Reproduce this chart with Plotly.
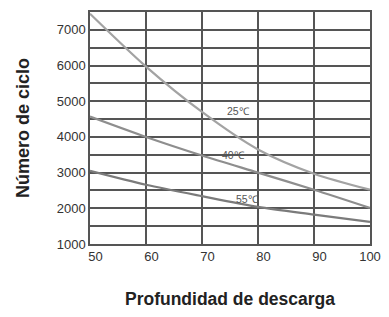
import plotly.graph_objects as go

dod = [50, 60, 70, 80, 90, 100]
cycles_25 = [7450, 5970, 4700, 3650, 2970, 2520]
cycles_40 = [4570, 4000, 3480, 3000, 2520, 2010]
cycles_55 = [3050, 2660, 2340, 2040, 1825, 1620]
series_names = ["25℃", "40℃", "55℃"]
label_x = [76.5, 75.6, 78.2]
label_y = [4740, 3480, 2270]
x_ticks = [50, 60, 70, 80, 90, 100]
y_ticks = [1000, 2000, 3000, 4000, 5000, 6000, 7000]

colors = ["#a3a3a3", "#8e8e8e", "#7b7b7b"]

fig = go.Figure()
for name, ys, c in zip(series_names, [cycles_25, cycles_40, cycles_55], colors):
    fig.add_trace(go.Scatter(x=dod, y=ys, mode="lines", name=name,
                             line=dict(color=c, width=2.2, shape="spline", smoothing=0.8),
                             showlegend=False))

for name, lx, ly in zip(series_names, label_x, label_y):
    fig.add_annotation(x=lx, y=ly, text=name, showarrow=False,
                       font=dict(size=10.5, color="#555", family="Liberation Sans Narrow, Liberation Sans"))

# small right offset of tick labels as in the original (none on the last to keep it inside)
x_text = [("\u00a0\u00a0\u00a0" + str(v)) if v < 100 else str(v) for v in x_ticks]

grid_vals = list(range(1000, 7501, 500))
fig.update_layout(
    width=381, height=301,
    margin=dict(l=82, r=19, t=4, b=65),
    paper_bgcolor="white", plot_bgcolor="white",
    font=dict(family="Liberation Sans, Arial", color="#333"),
)
fig.update_xaxes(range=[50, 100], tickvals=x_ticks, ticktext=x_text, showgrid=True, gridcolor="#555",
                 gridwidth=1.5, showline=True, linecolor="#555", linewidth=1.5, mirror=True,
                 zeroline=False, ticks="", tickfont=dict(size=13, color="#333"),
                 automargin=False, ticklabeloverflow="allow",
                 title=dict(text="<b>Profundidad de descarga</b>", standoff=30,
                            font=dict(size=17.5, color="#222", family="Liberation Sans")))
fig.update_yaxes(range=[1000, 7500], showgrid=True, gridcolor="#555",
                 gridwidth=1.5, showline=True, linecolor="#555", linewidth=1.5, mirror=True,
                 zeroline=False, ticks="", tickfont=dict(size=13, color="#333"),
                 tickmode="array", automargin=False,
                 tickvals=grid_vals,
                 ticktext=[str(v) if v in y_ticks else "" for v in grid_vals],
                 title=dict(text="<b>Número de ciclo</b>", standoff=22,
                            font=dict(size=18, color="#222", family="Liberation Sans")))

fig.write_html("out.html")
